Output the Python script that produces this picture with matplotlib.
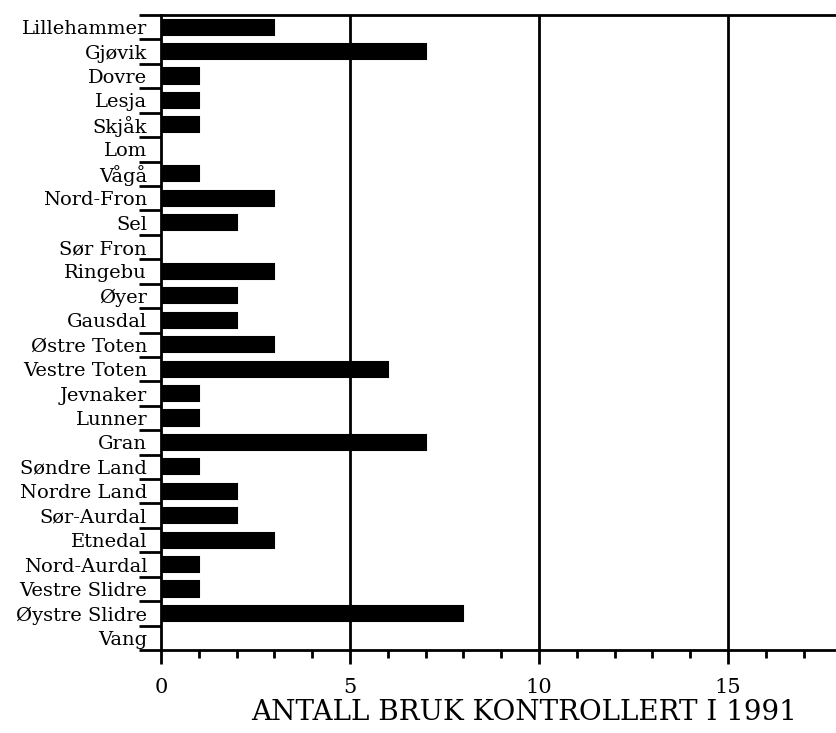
import numpy as np
import matplotlib.pyplot as plt
from matplotlib.ticker import MultipleLocator, FixedLocator

plt.rcParams['font.family'] = ['DejaVu Serif']

kommuner = ["Lillehammer", "Gjøvik", "Dovre", "Lesja", "Skjåk", "Lom", "Vågå",
            "Nord-Fron", "Sel", "Sør Fron", "Ringebu", "Øyer", "Gausdal",
            "Østre Toten", "Vestre Toten", "Jevnaker", "Lunner", "Gran",
            "Søndre Land", "Nordre Land", "Sør-Aurdal", "Etnedal", "Nord-Aurdal",
            "Vestre Slidre", "Øystre Slidre", "Vang"]
antall = [3, 7, 1, 1, 1, 0, 1, 3, 2, 0, 3, 2, 2, 3, 6, 1, 1, 7, 1, 2, 2, 3, 1, 1, 8, 0]
xlabel = "ANTALL BRUK KONTROLLERT I 1991"

fig = plt.figure(figsize=(8.37, 7.33), dpi=100)
ax = fig.add_axes([161/837, 1 - 650/733, 1 - 161/837, (650 - 15)/733])

pos = np.arange(len(kommuner))
ax.barh(pos, antall, height=0.62, color="black", edgecolor="black",
        linewidth=1.5, zorder=3)

for gx in [5, 10, 15]:
    ax.axvline(gx, color="black", lw=2, zorder=2)

ax.set_xlim(0, 676/37.8)
ax.set_ylim(len(kommuner) - 0.5, -0.5)

# category labels at centres, tick marks at boundaries
ax.set_yticks(pos)
ax.set_yticklabels(kommuner, fontsize=14)
ax.tick_params(axis="y", which="major", length=0, pad=10)
ax.yaxis.set_minor_locator(FixedLocator(np.arange(-0.5, len(kommuner), 1)))
ax.tick_params(axis="y", which="minor", length=16, width=2, direction="out")

ax.set_xticks([0, 5, 10, 15])
ax.set_xticklabels(["0", "5", "10", "15"], fontsize=15)
ax.xaxis.set_minor_locator(MultipleLocator(1))
ax.tick_params(axis="x", which="major", length=10, width=2, pad=10)
ax.tick_params(axis="x", which="minor", length=6, width=2)

ax.set_xlabel(xlabel, fontsize=20)
ax.xaxis.set_label_coords((524 - 161)/676, -0.077)

for s in ["left", "bottom", "top"]:
    ax.spines[s].set_linewidth(2)
ax.spines["right"].set_visible(False)

fig.savefig("out.png", dpi=100)
